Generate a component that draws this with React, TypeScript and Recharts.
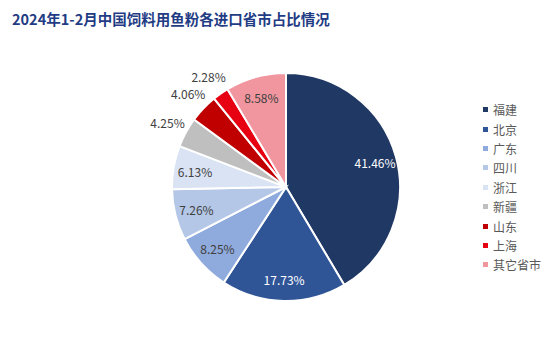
import { PieChart, Pie, Cell, Legend } from 'recharts';

const provinces = ['福建', '北京', '广东', '四川', '浙江', '新疆', '山东', '上海', '其它省市'];
const shares = [41.46, 17.73, 8.25, 7.26, 6.13, 4.25, 4.06, 2.28, 8.58];

const COLORS = ['#203864', '#2F5597', '#8FAADC', '#B4C7E7', '#DAE3F3', '#BFBFBF', '#C00000', '#E60012', '#F1969F'];
const LABEL_COLORS = ['#ffffff', '#ffffff', '#404040', '#404040', '#404040', '#404040', '#404040', '#404040', '#404040'];

const data = provinces.map((name, i) => ({ name, value: shares[i] }));

const RAD = Math.PI / 180;
const FONT = '"Noto Sans CJK SC", "Noto Sans", sans-serif';

const renderLabel = (props: any) => {
  const { cx, cy, midAngle, outerRadius, value, index } = props;
  const outside = value < 5;
  const r = outside ? outerRadius + 21 : outerRadius * 0.81;
  const x = cx + r * Math.cos(-midAngle * RAD);
  const y = cy + r * Math.sin(-midAngle * RAD);
  return (
    <text
      x={x}
      y={y}
      fill={LABEL_COLORS[index]}
      textAnchor="middle"
      dominantBaseline="central"
      fontSize={12}
      fontFamily={FONT}
    >
      {value.toFixed(2)}%
    </text>
  );
};

// keep legend in the same order as the data
const LegendContent = ({ payload }: any) => {
  const items = [...(payload || [])].sort(
    (a: any, b: any) => provinces.indexOf(a.value) - provinces.indexOf(b.value)
  );
  return (
    <div>
      {items.map((entry: any, i: number) => (
        <div key={i} style={{ display: 'flex', alignItems: 'center', height: 19.4 }}>
          <span style={{ width: 5, height: 5, background: entry.color, marginRight: 5 }} />
          <span style={{ fontSize: 12, color: '#595959', fontFamily: FONT }}>{entry.value}</span>
        </div>
      ))}
    </div>
  );
};

export default function App() {
  return (
    <div style={{ position: 'relative', width: 554, height: 362, background: '#fff', margin: -8 }}>
      <div
        style={{
          position: 'absolute',
          left: 12,
          top: 8,
          fontSize: 14.5,
          fontWeight: 'bold',
          color: '#1F3C84',
          fontFamily: FONT,
          zIndex: 2,
        }}
      >
        2024年1-2月中国饲料用鱼粉各进口省市占比情况
      </div>
      <PieChart width={554} height={362}>
        <Pie
          data={data}
          dataKey="value"
          nameKey="name"
          cx={281}
          cy={182}
          outerRadius={114}
          startAngle={90}
          endAngle={-270}
          stroke="#ffffff"
          strokeWidth={2}
          label={renderLabel}
          labelLine={false}
          isAnimationActive={false}
        >
          {data.map((d, i) => (
            <Cell key={d.name} fill={COLORS[i]} />
          ))}
        </Pie>
        <Legend
          layout="vertical"
          content={<LegendContent />}
          wrapperStyle={{ position: 'absolute', left: 483, top: 100, width: 70 }}
        />
      </PieChart>
    </div>
  );
}
